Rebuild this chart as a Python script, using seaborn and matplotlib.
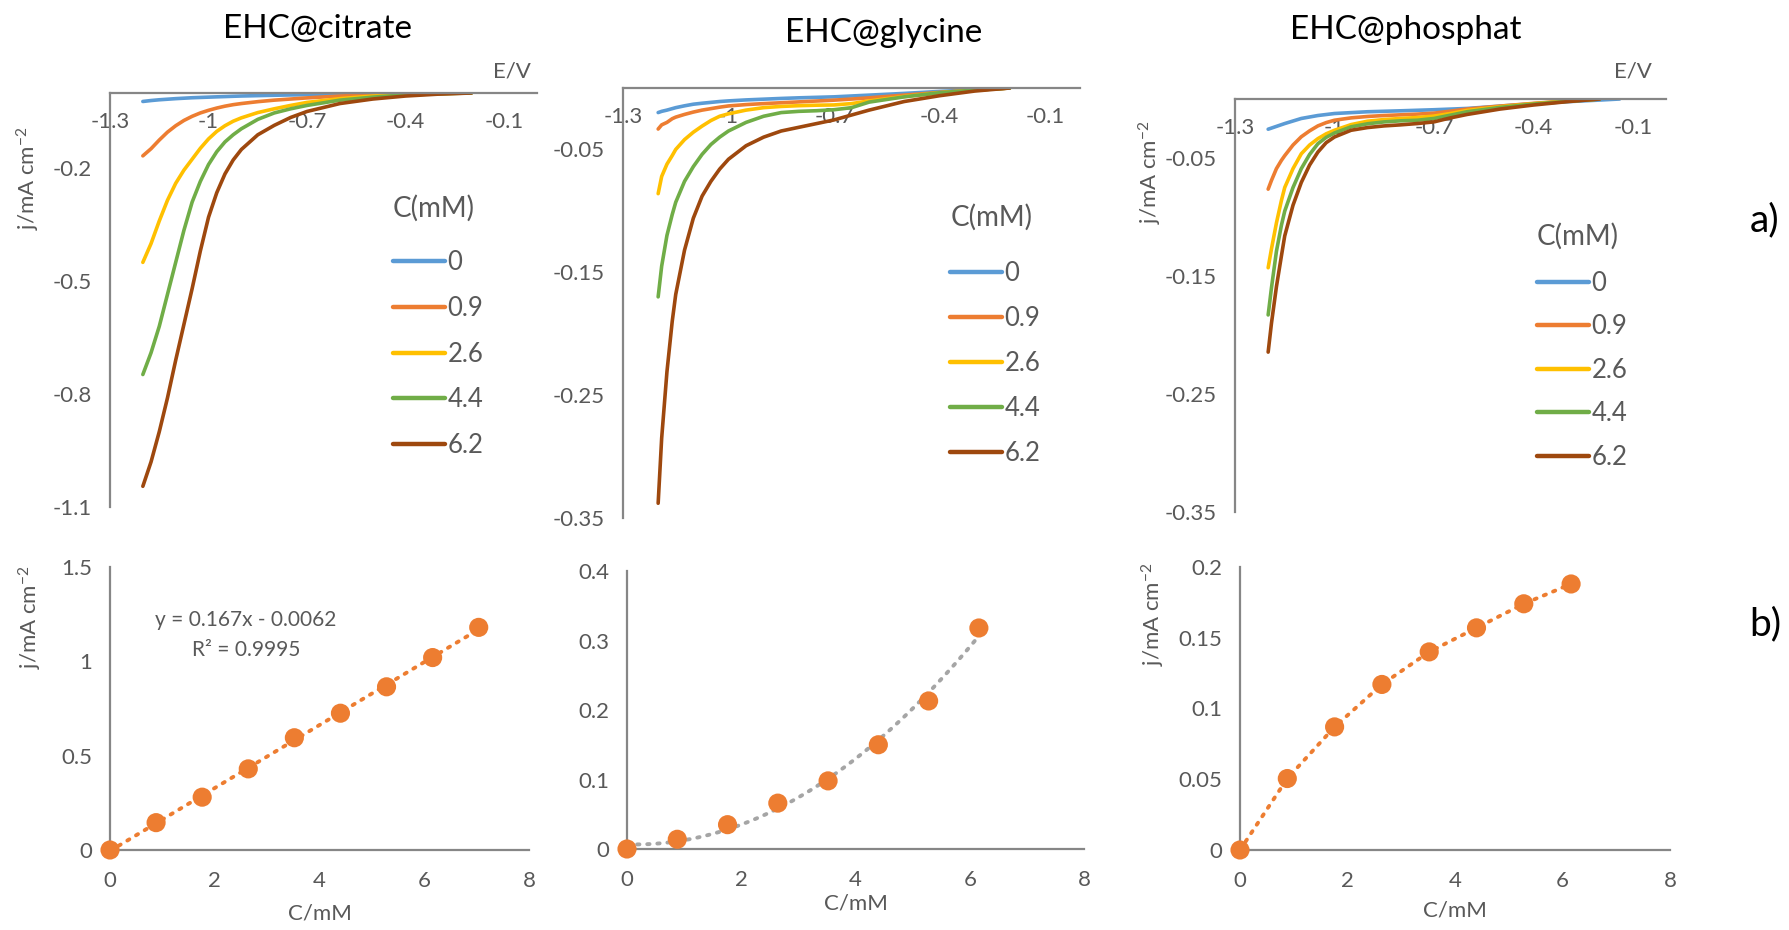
import numpy as np
import pandas as pd
import matplotlib
matplotlib.use("Agg")
import matplotlib.pyplot as plt
import seaborn as sns
from matplotlib.ticker import FixedLocator, FuncFormatter

# ---------------- data ----------------
conc_labels = ["0", "0.9", "2.6", "4.4", "6.2"]
colors = ["#5B9BD5", "#ED7D31", "#FFC000", "#70AD47", "#9E480E"]

# EHC@citrate polarisation curves
cit_E = [-1.2, -1.175, -1.15, -1.125, -1.1, -1.075, -1.05, -1.025, -1.0, -0.975, -0.95, -0.925,
         -0.9, -0.85, -0.8, -0.75, -0.7, -0.6, -0.5, -0.4, -0.3, -0.2]
cit_0 = [-0.0225, -0.020, -0.018, -0.0165, -0.015, -0.0138, -0.0126, -0.0118, -0.011, -0.0102, -0.0095,
         -0.0087, -0.008, -0.007, -0.006, -0.0052, -0.0045, -0.0036, -0.0027, -0.0018, -0.0009, 0.0]
cit_09 = [-0.167, -0.148, -0.125, -0.104, -0.087, -0.073, -0.062, -0.053, -0.046, -0.040, -0.035,
          -0.031, -0.028, -0.023, -0.019, -0.016, -0.013, -0.008, -0.005, -0.003, -0.001, 0.0]
cit_26 = [-0.45, -0.40, -0.34, -0.285, -0.24, -0.205, -0.176, -0.147, -0.122, -0.102, -0.087,
          -0.075, -0.066, -0.052, -0.042, -0.033, -0.025, -0.015, -0.008, -0.004, -0.0015, 0.0]
cit_44 = [-0.748, -0.69, -0.62, -0.535, -0.45, -0.365, -0.29, -0.235, -0.19, -0.156, -0.13,
          -0.111, -0.095, -0.07, -0.053, -0.042, -0.033, -0.019, -0.011, -0.005, -0.002, 0.0]
cit_62 = [-1.045, -0.98, -0.90, -0.81, -0.71, -0.615, -0.52, -0.42, -0.33, -0.265, -0.215,
          -0.178, -0.150, -0.111, -0.086, -0.065, -0.049, -0.028, -0.016, -0.008, -0.003, 0.0]

# EHC@glycine polarisation curves
gly_E = [-1.2, -1.19, -1.175, -1.16, -1.15, -1.125, -1.1, -1.075, -1.05, -1.025, -1.0, -0.95,
         -0.9, -0.85, -0.8, -0.75, -0.7, -0.65, -0.6, -0.5, -0.4, -0.3, -0.2]
gly_0 = [-0.020, -0.019, -0.018, -0.0168, -0.016, -0.0145, -0.0132, -0.0124, -0.0117, -0.011, -0.0105,
         -0.0097, -0.0091, -0.0085, -0.008, -0.0076, -0.0072, -0.0065, -0.0058, -0.0044, -0.0028, -0.0014, 0.0]
gly_09 = [-0.0334, -0.030, -0.028, -0.025, -0.0237, -0.0215, -0.0196, -0.018, -0.0168, -0.0156, -0.0146,
          -0.0135, -0.0127, -0.012, -0.0113, -0.0106, -0.0099, -0.009, -0.008, -0.0058, -0.0036, -0.0017, 0.0]
gly_26 = [-0.086, -0.072, -0.062, -0.055, -0.050, -0.042, -0.036, -0.031, -0.0265, -0.023, -0.021,
          -0.018, -0.016, -0.015, -0.0144, -0.014, -0.0138, -0.0127, -0.0105, -0.0069, -0.0039, -0.0017, 0.0]
gly_44 = [-0.170, -0.145, -0.120, -0.103, -0.093, -0.076, -0.064, -0.054, -0.046, -0.040, -0.035,
          -0.028, -0.023, -0.020, -0.019, -0.0185, -0.0177, -0.016, -0.0115, -0.0072, -0.0039, -0.0017, 0.0]
gly_62 = [-0.338, -0.285, -0.231, -0.190, -0.168, -0.132, -0.106, -0.088, -0.076, -0.066, -0.058,
          -0.047, -0.040, -0.035, -0.032, -0.029, -0.026, -0.022, -0.018, -0.011, -0.0063, -0.0025, 0.0]

# EHC@phosphat polarisation curves
pho_E = [-1.2, -1.19, -1.175, -1.16, -1.15, -1.125, -1.1, -1.075, -1.05, -1.025, -1.0, -0.95,
         -0.9, -0.85, -0.8, -0.75, -0.7, -0.65, -0.6, -0.5, -0.4, -0.3, -0.2]
pho_E0 = [-1.2, -1.15, -1.1, -1.05, -1.0, -0.9, -0.8, -0.7, -0.6, -0.5, -0.4, -0.3, -0.2, -0.14]
pho_0 = [-0.0256, -0.0208, -0.0165, -0.014, -0.0123, -0.0108, -0.010, -0.0091, -0.008, -0.006, -0.004,
         -0.0023, -0.0009, 0.0]
pho_09 = [-0.0764, -0.069, -0.059, -0.052, -0.048, -0.039, -0.032, -0.027, -0.0228, -0.020, -0.018,
          -0.016, -0.0148, -0.014, -0.0134, -0.0128, -0.012, -0.0103, -0.0085, -0.006, -0.0037, -0.0017, 0.0]
pho_26 = [-0.143, -0.127, -0.105, -0.086, -0.075, -0.059, -0.0464, -0.039, -0.0336, -0.0295, -0.0265,
          -0.0217, -0.0188, -0.0174, -0.0165, -0.0157, -0.0145, -0.0123, -0.0097, -0.0066, -0.004, -0.0017, 0.0]
pho_44 = [-0.183, -0.160, -0.129, -0.107, -0.095, -0.075, -0.059, -0.047, -0.0379, -0.0325, -0.0288,
          -0.0236, -0.021, -0.0194, -0.0185, -0.018, -0.0165, -0.0137, -0.0108, -0.0071, -0.0043, -0.002, 0.0]
pho_62 = [-0.2145, -0.19, -0.159, -0.133, -0.116, -0.090, -0.0707, -0.056, -0.045, -0.037, -0.0322,
          -0.0265, -0.0242, -0.0228, -0.0219, -0.0208, -0.0194, -0.016, -0.0131, -0.0085, -0.0051, -0.0023, 0.0]

# calibration plots (b)
cit_C = [0, 0.88, 1.76, 2.64, 3.52, 4.4, 5.28, 6.16, 7.04]
cit_j = [0, 0.145, 0.28, 0.43, 0.595, 0.725, 0.865, 1.02, 1.18]
gly_C = [0, 0.88, 1.76, 2.64, 3.52, 4.4, 5.28, 6.16]
gly_j = [0, 0.014, 0.035, 0.066, 0.098, 0.150, 0.213, 0.318]
pho_C = [0, 0.88, 1.76, 2.64, 3.52, 4.4, 5.28, 6.16]
pho_j = [0, 0.0505, 0.087, 0.117, 0.140, 0.157, 0.174, 0.188]

e_ticks = [-1.3, -1.0, -0.7, -0.4, -0.1]
cit_yticks = [-0.2, -0.5, -0.8, -1.1]
gly_yticks = [-0.05, -0.15, -0.25, -0.35]
pho_yticks = [-0.05, -0.15, -0.25, -0.35]
c_ticks = [0, 2, 4, 6, 8]
cit_bticks = [0, 0.5, 1, 1.5]
gly_bticks = [0, 0.1, 0.2, 0.3, 0.4]
pho_bticks = [0, 0.05, 0.1, 0.15, 0.2]

# ---------------- style ----------------
sns.set_theme(style="white")
plt.rcParams['font.family'] = ['Lato', 'DejaVu Sans']
plt.rcParams['axes.unicode_minus'] = False
plt.rcParams['mathtext.default'] = 'regular'

AX_COL = "#868686"
TXT_COL = "#595959"
ORANGE = "#ED7D31"
W, H = 1789, 930
fig = plt.figure(figsize=(W / 100, H / 100), dpi=100)


def rect(l, t, r, b):
    return [l / W, 1 - b / H, (r - l) / W, (b - t) / H]


fmt = FuncFormatter(lambda v, p: f"{v:g}")
YLAB = r"j/mA cm$^{-2}$"


def style_axes(ax):
    for s in ["top", "right"]:
        ax.spines[s].set_visible(False)
    for s in ["left", "bottom"]:
        ax.spines[s].set_color(AX_COL)
        ax.spines[s].set_linewidth(1.6)
    ax.tick_params(axis="both", which="major", direction="out", length=5, width=1.4,
                   color=AX_COL, labelcolor=TXT_COL, labelsize=16)
    ax.xaxis.set_major_formatter(fmt)
    ax.yaxis.set_major_formatter(fmt)
    ax.set_xlabel("")
    ax.set_ylabel("")


def top_panel(box, curves, ymin, yticks, leg_xy, spacing, title_gap):
    ax = fig.add_axes(rect(*box))
    for lab, col, (E, j) in zip(conc_labels, colors, curves):
        df = pd.DataFrame({"E": E, "j": j})
        sns.lineplot(data=df, x="E", y="j", ax=ax, color=col, lw=2.6, label=lab,
                     sort=False, estimator=None)
    ax.set_xlim(-1.3, 0)
    ax.set_ylim(ymin, 0)
    style_axes(ax)
    ax.spines["bottom"].set_position(("data", 0))
    ax.xaxis.set_major_locator(FixedLocator(e_ticks))
    ax.yaxis.set_major_locator(FixedLocator(yticks))
    ax.tick_params(axis="x", pad=9)
    ax.tick_params(axis="y", pad=8)
    leg = ax.legend(title="C(mM)", frameon=False, loc="upper left",
                    bbox_to_anchor=(leg_xy[0] / W, 1 - leg_xy[1] / H),
                    bbox_transform=fig.transFigure, fontsize=18.5, title_fontsize=20,
                    handlelength=2.0, handletextpad=0.12, labelspacing=spacing,
                    alignment="left")
    leg._legend_box.sep = title_gap
    for t in leg.get_texts():
        t.set_color(TXT_COL)
    leg.get_title().set_color(TXT_COL)
    for h in leg.get_lines():
        h.set_linewidth(3.2)
    return ax


def bottom_panel(box, yticks, ymax):
    ax = fig.add_axes(rect(*box))
    ax.set_xlim(0, 8)
    ax.set_ylim(0, ymax)
    style_axes(ax)
    ax.xaxis.set_major_locator(FixedLocator(c_ticks))
    ax.yaxis.set_major_locator(FixedLocator(yticks))
    ax.tick_params(axis="x", pad=10)
    ax.tick_params(axis="y", pad=8)
    return ax


# ---------------- top row (a) ----------------
ax1 = top_panel((110, 93, 537, 507),
                [(cit_E, cit_0), (cit_E, cit_09), (cit_E, cit_26), (cit_E, cit_44), (cit_E, cit_62)],
                -1.1, cit_yticks, (370, 172), 0.80, 20.5)
ax2 = top_panel((623, 88, 1080, 518),
                [(gly_E, gly_0), (gly_E, gly_09), (gly_E, gly_26), (gly_E, gly_44), (gly_E, gly_62)],
                -0.35, gly_yticks, (927, 181), 0.78, 21.5)
ax3 = top_panel((1235, 99, 1666, 512),
                [(pho_E0, pho_0), (pho_E, pho_09), (pho_E, pho_26), (pho_E, pho_44), (pho_E, pho_62)],
                -0.35, pho_yticks, (1514, 200), 0.72, 15.0)

# ---------------- bottom row (b) ----------------
dot = dict(ls=(0, (0.6, 2.0)), lw=2.8, dash_capstyle="round")

bx1 = bottom_panel((110, 567, 529, 850), cit_bticks, 1.5)
sns.regplot(x=cit_C, y=cit_j, ax=bx1, order=1, ci=None, scatter=False,
            line_kws=dict(color=ORANGE, **dot))
sns.scatterplot(x=cit_C, y=cit_j, ax=bx1, s=190, color=ORANGE, edgecolor="none", zorder=5, clip_on=False)

bx2 = bottom_panel((627, 571, 1084, 849), gly_bticks, 0.4)
sns.regplot(x=gly_C, y=gly_j, ax=bx2, order=2, ci=None, scatter=False,
            line_kws=dict(color="#A5A5A5", **dot))
sns.scatterplot(x=gly_C, y=gly_j, ax=bx2, s=190, color=ORANGE, edgecolor="none", zorder=5, clip_on=False)

bx3 = bottom_panel((1240, 567, 1670, 850), pho_bticks, 0.2)
sns.lineplot(x=pho_C, y=pho_j, ax=bx3, color=ORANGE, estimator=None, sort=False, **dot)
sns.scatterplot(x=pho_C, y=pho_j, ax=bx3, s=190, color=ORANGE, edgecolor="none", zorder=5, clip_on=False)
for bx in (bx1, bx2, bx3):
    bx.set_xlabel("")
    bx.set_ylabel("")

# ---------------- texts ----------------
title_kw = dict(fontsize=24, color="black", ha="center", va="center")
fig.text(317 / W, 1 - 29 / H, "EHC@citrate", **title_kw)
fig.text(884 / W, 1 - 33 / H, "EHC@glycine", **title_kw)
fig.text(1406 / W, 1 - 30 / H, "EHC@phosphat", **title_kw)

lab_kw = dict(fontsize=16, color=TXT_COL, ha="center", va="center")
fig.text(512 / W, 1 - 71 / H, "E/V", **lab_kw)
fig.text(1633 / W, 1 - 71 / H, "E/V", **lab_kw)
fig.text(28 / W, 1 - 178 / H, YLAB, rotation=90, **lab_kw)
fig.text(1150 / W, 1 - 172 / H, YLAB, rotation=90, **lab_kw)
fig.text(30 / W, 1 - 617 / H, YLAB, rotation=90, **lab_kw)
fig.text(1153 / W, 1 - 614 / H, YLAB, rotation=90, **lab_kw)
fig.text(320 / W, 1 - 913 / H, "C/mM", **lab_kw)
fig.text(856 / W, 1 - 903 / H, "C/mM", **lab_kw)
fig.text(1455 / W, 1 - 910 / H, "C/mM", **lab_kw)

eq_kw = dict(fontsize=15, color=TXT_COL, ha="center", va="center")
fig.text(246 / W, 1 - 620 / H, "y = 0.167x - 0.0062", **eq_kw)
fig.text(246 / W, 1 - 650 / H, "R² = 0.9995", **eq_kw)

fig.text(1765 / W, 1 - 220 / H, "a)", fontsize=28, color="black", ha="center", va="center")
fig.text(1765 / W, 1 - 624 / H, "b)", fontsize=28, color="black", ha="center", va="center")

fig.savefig("out.png", dpi=100)
